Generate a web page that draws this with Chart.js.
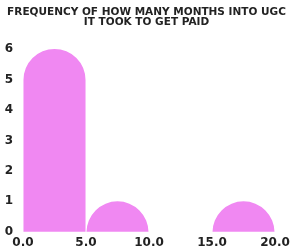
<!DOCTYPE html>
<html>
<head>
<meta charset="utf-8">
<script src="https://cdn.jsdelivr.net/npm/chart.js@4/dist/chart.umd.min.js"></script>
<style>
  html, body { margin: 0; padding: 0; background: #fff; }
  #wrap { width: 293px; height: 249px; }
</style>
</head>
<body>
<div id="wrap"><canvas id="c"></canvas></div>
<script>
const titleLines = ['FREQUENCY OF HOW MANY MONTHS INTO UGC', 'IT TOOK TO GET PAID'];
const binStarts = [0, 5, 10, 15];
const binEnds = [5, 10, 15, 20];
const counts = [6, 1, 0, 1];
const xTicks = [0, 5, 10, 15, 20];
const yTicks = [0, 1, 2, 3, 4, 5, 6];

const points = counts.map((c, i) => ({ x: (binStarts[i] + binEnds[i]) / 2, y: c === 0 ? null : c }));

new Chart(document.getElementById('c'), {
  type: 'bar',
  data: {
    datasets: [{
      data: points,
      backgroundColor: '#F088F2',
      borderWidth: 0,
      borderRadius: 100,
      borderSkipped: 'start',
      base: -2,
      barPercentage: 0.985,
      categoryPercentage: 1,
      clip: { top: 5, left: 5, right: 5, bottom: 0 }
    }]
  },
  options: {
    responsive: true,
    maintainAspectRatio: false,
    animation: false,
    events: [],
    layout: { padding: { left: 0, right: 0, top: 0, bottom: -5 } },
    plugins: {
      legend: { display: false },
      tooltip: { enabled: false },
      title: {
        display: true,
        text: titleLines,
        color: '#222',
        font: { family: 'DejaVu Sans', weight: 'bold', size: 10.5, lineHeight: 0.95 },
        padding: { top: 7, bottom: 22 }
      }
    },
    scales: {
      x: {
        type: 'linear',
        min: xTicks[0],
        max: xTicks[xTicks.length - 1],
        offset: false,
        grid: { display: false, drawTicks: false, offset: false },
        border: { display: false },
        afterBuildTicks: s => { s.ticks = xTicks.map(v => ({ value: v })); },
        afterFit: s => { s.paddingRight = 18; },
        ticks: {
          color: '#222',
          padding: 5,
          maxRotation: 0,
          autoSkip: false,
          font: { family: 'DejaVu Sans', weight: 'bold', size: 12, lineHeight: 1 },
          callback: v => Number(v).toFixed(1)
        }
      },
      y: {
        min: yTicks[0],
        max: yTicks[yTicks.length - 1],
        grid: { display: false, drawTicks: false },
        border: { display: false },
        afterBuildTicks: s => { s.ticks = yTicks.map(v => ({ value: v })); },
        afterFit: s => { s.width = 23; },
        ticks: {
          color: '#222',
          padding: 10,
          font: { family: 'DejaVu Sans', weight: 'bold', size: 12 },
          callback: v => String(v)
        }
      }
    }
  }
});
</script>
</body>
</html>
